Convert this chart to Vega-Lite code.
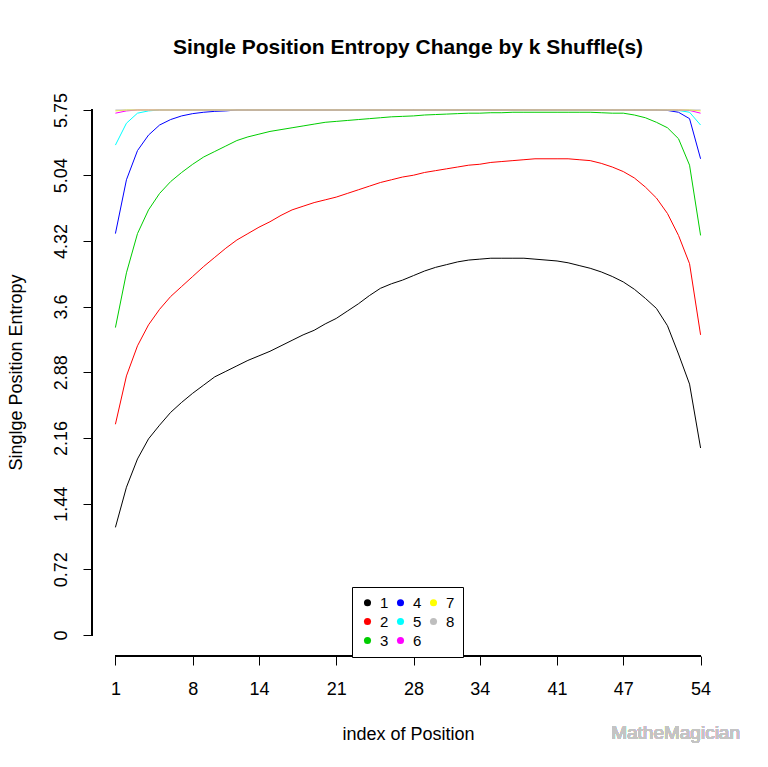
{
"$schema": "https://vega.github.io/schema/vega-lite/v6.json",
"width": 632, "height": 567,
"autosize": {"type": "none"},
"padding": {"left": 92, "top": 89, "right": 44, "bottom": 111},
"background": "white",
"title": {"text": "Single Position Entropy Change by k Shuffle(s)", "font": "Liberation Sans", "fontSize": 21, "fontWeight": "bold", "color": "black", "anchor": "middle", "frame": "group", "baseline": "alphabetic", "offset": 14},
"config": {"view": {"stroke": null}, "font": "Liberation Sans", "axis": {"grid": false}},
"data": {"values": [
{"i":1,"k":"1","v":1.18},{"i":2,"k":"1","v":1.62},{"i":3,"k":"1","v":1.93},{"i":4,"k":"1","v":2.15},{"i":5,"k":"1","v":2.30},{"i":6,"k":"1","v":2.44},{"i":7,"k":"1","v":2.55},{"i":8,"k":"1","v":2.65},{"i":9,"k":"1","v":2.74},{"i":10,"k":"1","v":2.83},
{"i":11,"k":"1","v":2.89},{"i":12,"k":"1","v":2.95},{"i":13,"k":"1","v":3.01},{"i":14,"k":"1","v":3.06},{"i":15,"k":"1","v":3.11},{"i":16,"k":"1","v":3.17},{"i":17,"k":"1","v":3.23},{"i":18,"k":"1","v":3.29},{"i":19,"k":"1","v":3.34},{"i":20,"k":"1","v":3.41},
{"i":21,"k":"1","v":3.47},{"i":22,"k":"1","v":3.55},{"i":23,"k":"1","v":3.63},{"i":24,"k":"1","v":3.72},{"i":25,"k":"1","v":3.80},{"i":26,"k":"1","v":3.85},{"i":27,"k":"1","v":3.89},{"i":28,"k":"1","v":3.94},{"i":29,"k":"1","v":3.99},{"i":30,"k":"1","v":4.03},
{"i":31,"k":"1","v":4.06},{"i":32,"k":"1","v":4.09},{"i":33,"k":"1","v":4.11},{"i":34,"k":"1","v":4.12},{"i":35,"k":"1","v":4.13},{"i":36,"k":"1","v":4.13},{"i":37,"k":"1","v":4.13},{"i":38,"k":"1","v":4.13},{"i":39,"k":"1","v":4.12},{"i":40,"k":"1","v":4.11},
{"i":41,"k":"1","v":4.10},{"i":42,"k":"1","v":4.08},{"i":43,"k":"1","v":4.05},{"i":44,"k":"1","v":4.02},{"i":45,"k":"1","v":3.98},{"i":46,"k":"1","v":3.93},{"i":47,"k":"1","v":3.87},{"i":48,"k":"1","v":3.79},{"i":49,"k":"1","v":3.69},{"i":50,"k":"1","v":3.58},
{"i":51,"k":"1","v":3.39},{"i":52,"k":"1","v":3.08},{"i":53,"k":"1","v":2.75},{"i":54,"k":"1","v":2.05},
{"i":1,"k":"2","v":2.31},{"i":2,"k":"2","v":2.84},{"i":3,"k":"2","v":3.17},{"i":4,"k":"2","v":3.40},{"i":5,"k":"2","v":3.57},{"i":6,"k":"2","v":3.71},{"i":7,"k":"2","v":3.82},{"i":8,"k":"2","v":3.93},{"i":9,"k":"2","v":4.04},{"i":10,"k":"2","v":4.14},
{"i":11,"k":"2","v":4.24},{"i":12,"k":"2","v":4.33},{"i":13,"k":"2","v":4.40},{"i":14,"k":"2","v":4.47},{"i":15,"k":"2","v":4.53},{"i":16,"k":"2","v":4.60},{"i":17,"k":"2","v":4.66},{"i":18,"k":"2","v":4.70},{"i":19,"k":"2","v":4.74},{"i":20,"k":"2","v":4.77},
{"i":21,"k":"2","v":4.80},{"i":22,"k":"2","v":4.84},{"i":23,"k":"2","v":4.88},{"i":24,"k":"2","v":4.92},{"i":25,"k":"2","v":4.96},{"i":26,"k":"2","v":4.99},{"i":27,"k":"2","v":5.02},{"i":28,"k":"2","v":5.04},{"i":29,"k":"2","v":5.07},{"i":30,"k":"2","v":5.09},
{"i":31,"k":"2","v":5.11},{"i":32,"k":"2","v":5.13},{"i":33,"k":"2","v":5.15},{"i":34,"k":"2","v":5.16},{"i":35,"k":"2","v":5.18},{"i":36,"k":"2","v":5.19},{"i":37,"k":"2","v":5.20},{"i":38,"k":"2","v":5.21},{"i":39,"k":"2","v":5.22},{"i":40,"k":"2","v":5.22},
{"i":41,"k":"2","v":5.22},{"i":42,"k":"2","v":5.22},{"i":43,"k":"2","v":5.21},{"i":44,"k":"2","v":5.20},{"i":45,"k":"2","v":5.17},{"i":46,"k":"2","v":5.13},{"i":47,"k":"2","v":5.08},{"i":48,"k":"2","v":5.01},{"i":49,"k":"2","v":4.91},{"i":50,"k":"2","v":4.79},
{"i":51,"k":"2","v":4.62},{"i":52,"k":"2","v":4.38},{"i":53,"k":"2","v":4.07},{"i":54,"k":"2","v":3.29},
{"i":1,"k":"3","v":3.37},{"i":2,"k":"3","v":3.97},{"i":3,"k":"3","v":4.40},{"i":4,"k":"3","v":4.66},{"i":5,"k":"3","v":4.84},{"i":6,"k":"3","v":4.97},{"i":7,"k":"3","v":5.07},{"i":8,"k":"3","v":5.16},{"i":9,"k":"3","v":5.24},{"i":10,"k":"3","v":5.30},
{"i":11,"k":"3","v":5.36},{"i":12,"k":"3","v":5.42},{"i":13,"k":"3","v":5.46},{"i":14,"k":"3","v":5.49},{"i":15,"k":"3","v":5.52},{"i":16,"k":"3","v":5.54},{"i":17,"k":"3","v":5.56},{"i":18,"k":"3","v":5.58},{"i":19,"k":"3","v":5.60},{"i":20,"k":"3","v":5.62},
{"i":21,"k":"3","v":5.63},{"i":22,"k":"3","v":5.64},{"i":23,"k":"3","v":5.65},{"i":24,"k":"3","v":5.66},{"i":25,"k":"3","v":5.67},{"i":26,"k":"3","v":5.68},{"i":27,"k":"3","v":5.685},{"i":28,"k":"3","v":5.69},{"i":29,"k":"3","v":5.70},{"i":30,"k":"3","v":5.705},
{"i":31,"k":"3","v":5.71},{"i":32,"k":"3","v":5.715},{"i":33,"k":"3","v":5.72},{"i":34,"k":"3","v":5.72},{"i":35,"k":"3","v":5.725},{"i":36,"k":"3","v":5.725},{"i":37,"k":"3","v":5.73},{"i":38,"k":"3","v":5.73},{"i":39,"k":"3","v":5.73},{"i":40,"k":"3","v":5.73},
{"i":41,"k":"3","v":5.73},{"i":42,"k":"3","v":5.73},{"i":43,"k":"3","v":5.73},{"i":44,"k":"3","v":5.73},{"i":45,"k":"3","v":5.725},{"i":46,"k":"3","v":5.72},{"i":47,"k":"3","v":5.72},{"i":48,"k":"3","v":5.70},{"i":49,"k":"3","v":5.67},{"i":50,"k":"3","v":5.62},
{"i":51,"k":"3","v":5.56},{"i":52,"k":"3","v":5.44},{"i":53,"k":"3","v":5.15},{"i":54,"k":"3","v":4.38},
{"i":1,"k":"4","v":4.40},{"i":2,"k":"4","v":4.99},{"i":3,"k":"4","v":5.31},{"i":4,"k":"4","v":5.48},{"i":5,"k":"4","v":5.59},{"i":6,"k":"4","v":5.65},{"i":7,"k":"4","v":5.69},{"i":8,"k":"4","v":5.715},{"i":9,"k":"4","v":5.73},{"i":10,"k":"4","v":5.74},
{"i":11,"k":"4","v":5.745},{"i":12,"k":"4","v":5.755},{"i":13,"k":"4","v":5.755},{"i":14,"k":"4","v":5.755},{"i":15,"k":"4","v":5.755},{"i":16,"k":"4","v":5.755},{"i":17,"k":"4","v":5.755},{"i":18,"k":"4","v":5.755},{"i":19,"k":"4","v":5.755},{"i":20,"k":"4","v":5.755},
{"i":21,"k":"4","v":5.755},{"i":22,"k":"4","v":5.755},{"i":23,"k":"4","v":5.755},{"i":24,"k":"4","v":5.755},{"i":25,"k":"4","v":5.755},{"i":26,"k":"4","v":5.755},{"i":27,"k":"4","v":5.755},{"i":28,"k":"4","v":5.755},{"i":29,"k":"4","v":5.755},{"i":30,"k":"4","v":5.755},
{"i":31,"k":"4","v":5.755},{"i":32,"k":"4","v":5.755},{"i":33,"k":"4","v":5.755},{"i":34,"k":"4","v":5.755},{"i":35,"k":"4","v":5.755},{"i":36,"k":"4","v":5.755},{"i":37,"k":"4","v":5.755},{"i":38,"k":"4","v":5.755},{"i":39,"k":"4","v":5.755},{"i":40,"k":"4","v":5.755},
{"i":41,"k":"4","v":5.755},{"i":42,"k":"4","v":5.755},{"i":43,"k":"4","v":5.755},{"i":44,"k":"4","v":5.755},{"i":45,"k":"4","v":5.755},{"i":46,"k":"4","v":5.755},{"i":47,"k":"4","v":5.755},{"i":48,"k":"4","v":5.755},{"i":49,"k":"4","v":5.755},{"i":50,"k":"4","v":5.755},
{"i":51,"k":"4","v":5.75},{"i":52,"k":"4","v":5.73},{"i":53,"k":"4","v":5.66},{"i":54,"k":"4","v":5.22},
{"i":1,"k":"5","v":5.37},{"i":2,"k":"5","v":5.61},{"i":3,"k":"5","v":5.72},{"i":4,"k":"5","v":5.745},{"i":5,"k":"5","v":5.755},{"i":6,"k":"5","v":5.755},{"i":7,"k":"5","v":5.755},{"i":8,"k":"5","v":5.755},{"i":9,"k":"5","v":5.755},{"i":10,"k":"5","v":5.755},
{"i":11,"k":"5","v":5.755},{"i":12,"k":"5","v":5.755},{"i":13,"k":"5","v":5.755},{"i":14,"k":"5","v":5.755},{"i":15,"k":"5","v":5.755},{"i":16,"k":"5","v":5.755},{"i":17,"k":"5","v":5.755},{"i":18,"k":"5","v":5.755},{"i":19,"k":"5","v":5.755},{"i":20,"k":"5","v":5.755},
{"i":21,"k":"5","v":5.755},{"i":22,"k":"5","v":5.755},{"i":23,"k":"5","v":5.755},{"i":24,"k":"5","v":5.755},{"i":25,"k":"5","v":5.755},{"i":26,"k":"5","v":5.755},{"i":27,"k":"5","v":5.755},{"i":28,"k":"5","v":5.755},{"i":29,"k":"5","v":5.755},{"i":30,"k":"5","v":5.755},
{"i":31,"k":"5","v":5.755},{"i":32,"k":"5","v":5.755},{"i":33,"k":"5","v":5.755},{"i":34,"k":"5","v":5.755},{"i":35,"k":"5","v":5.755},{"i":36,"k":"5","v":5.755},{"i":37,"k":"5","v":5.755},{"i":38,"k":"5","v":5.755},{"i":39,"k":"5","v":5.755},{"i":40,"k":"5","v":5.755},
{"i":41,"k":"5","v":5.755},{"i":42,"k":"5","v":5.755},{"i":43,"k":"5","v":5.755},{"i":44,"k":"5","v":5.755},{"i":45,"k":"5","v":5.755},{"i":46,"k":"5","v":5.755},{"i":47,"k":"5","v":5.755},{"i":48,"k":"5","v":5.755},{"i":49,"k":"5","v":5.755},{"i":50,"k":"5","v":5.755},
{"i":51,"k":"5","v":5.755},{"i":52,"k":"5","v":5.75},{"i":53,"k":"5","v":5.73},{"i":54,"k":"5","v":5.59},
{"i":1,"k":"6","v":5.72},{"i":2,"k":"6","v":5.745},{"i":3,"k":"6","v":5.755},{"i":4,"k":"6","v":5.755},{"i":5,"k":"6","v":5.755},{"i":6,"k":"6","v":5.755},{"i":7,"k":"6","v":5.755},{"i":8,"k":"6","v":5.755},{"i":9,"k":"6","v":5.755},{"i":10,"k":"6","v":5.755},
{"i":11,"k":"6","v":5.755},{"i":12,"k":"6","v":5.755},{"i":13,"k":"6","v":5.755},{"i":14,"k":"6","v":5.755},{"i":15,"k":"6","v":5.755},{"i":16,"k":"6","v":5.755},{"i":17,"k":"6","v":5.755},{"i":18,"k":"6","v":5.755},{"i":19,"k":"6","v":5.755},{"i":20,"k":"6","v":5.755},
{"i":21,"k":"6","v":5.755},{"i":22,"k":"6","v":5.755},{"i":23,"k":"6","v":5.755},{"i":24,"k":"6","v":5.755},{"i":25,"k":"6","v":5.755},{"i":26,"k":"6","v":5.755},{"i":27,"k":"6","v":5.755},{"i":28,"k":"6","v":5.755},{"i":29,"k":"6","v":5.755},{"i":30,"k":"6","v":5.755},
{"i":31,"k":"6","v":5.755},{"i":32,"k":"6","v":5.755},{"i":33,"k":"6","v":5.755},{"i":34,"k":"6","v":5.755},{"i":35,"k":"6","v":5.755},{"i":36,"k":"6","v":5.755},{"i":37,"k":"6","v":5.755},{"i":38,"k":"6","v":5.755},{"i":39,"k":"6","v":5.755},{"i":40,"k":"6","v":5.755},
{"i":41,"k":"6","v":5.755},{"i":42,"k":"6","v":5.755},{"i":43,"k":"6","v":5.755},{"i":44,"k":"6","v":5.755},{"i":45,"k":"6","v":5.755},{"i":46,"k":"6","v":5.755},{"i":47,"k":"6","v":5.755},{"i":48,"k":"6","v":5.755},{"i":49,"k":"6","v":5.755},{"i":50,"k":"6","v":5.755},
{"i":51,"k":"6","v":5.755},{"i":52,"k":"6","v":5.755},{"i":53,"k":"6","v":5.75},{"i":54,"k":"6","v":5.72},
{"i":1,"k":"7","v":5.745},{"i":2,"k":"7","v":5.755},{"i":3,"k":"7","v":5.755},{"i":4,"k":"7","v":5.755},{"i":5,"k":"7","v":5.755},{"i":6,"k":"7","v":5.755},{"i":7,"k":"7","v":5.755},{"i":8,"k":"7","v":5.755},{"i":9,"k":"7","v":5.755},{"i":10,"k":"7","v":5.755},
{"i":11,"k":"7","v":5.755},{"i":12,"k":"7","v":5.755},{"i":13,"k":"7","v":5.755},{"i":14,"k":"7","v":5.755},{"i":15,"k":"7","v":5.755},{"i":16,"k":"7","v":5.755},{"i":17,"k":"7","v":5.755},{"i":18,"k":"7","v":5.755},{"i":19,"k":"7","v":5.755},{"i":20,"k":"7","v":5.755},
{"i":21,"k":"7","v":5.755},{"i":22,"k":"7","v":5.755},{"i":23,"k":"7","v":5.755},{"i":24,"k":"7","v":5.755},{"i":25,"k":"7","v":5.755},{"i":26,"k":"7","v":5.755},{"i":27,"k":"7","v":5.755},{"i":28,"k":"7","v":5.755},{"i":29,"k":"7","v":5.755},{"i":30,"k":"7","v":5.755},
{"i":31,"k":"7","v":5.755},{"i":32,"k":"7","v":5.755},{"i":33,"k":"7","v":5.755},{"i":34,"k":"7","v":5.755},{"i":35,"k":"7","v":5.755},{"i":36,"k":"7","v":5.755},{"i":37,"k":"7","v":5.755},{"i":38,"k":"7","v":5.755},{"i":39,"k":"7","v":5.755},{"i":40,"k":"7","v":5.755},
{"i":41,"k":"7","v":5.755},{"i":42,"k":"7","v":5.755},{"i":43,"k":"7","v":5.755},{"i":44,"k":"7","v":5.755},{"i":45,"k":"7","v":5.755},{"i":46,"k":"7","v":5.755},{"i":47,"k":"7","v":5.755},{"i":48,"k":"7","v":5.755},{"i":49,"k":"7","v":5.755},{"i":50,"k":"7","v":5.755},
{"i":51,"k":"7","v":5.755},{"i":52,"k":"7","v":5.755},{"i":53,"k":"7","v":5.755},{"i":54,"k":"7","v":5.745},
{"i":1,"k":"8","v":5.755},{"i":2,"k":"8","v":5.755},{"i":3,"k":"8","v":5.755},{"i":4,"k":"8","v":5.755},{"i":5,"k":"8","v":5.755},{"i":6,"k":"8","v":5.755},{"i":7,"k":"8","v":5.755},{"i":8,"k":"8","v":5.755},{"i":9,"k":"8","v":5.755},{"i":10,"k":"8","v":5.755},
{"i":11,"k":"8","v":5.755},{"i":12,"k":"8","v":5.755},{"i":13,"k":"8","v":5.755},{"i":14,"k":"8","v":5.755},{"i":15,"k":"8","v":5.755},{"i":16,"k":"8","v":5.755},{"i":17,"k":"8","v":5.755},{"i":18,"k":"8","v":5.755},{"i":19,"k":"8","v":5.755},{"i":20,"k":"8","v":5.755},
{"i":21,"k":"8","v":5.755},{"i":22,"k":"8","v":5.755},{"i":23,"k":"8","v":5.755},{"i":24,"k":"8","v":5.755},{"i":25,"k":"8","v":5.755},{"i":26,"k":"8","v":5.755},{"i":27,"k":"8","v":5.755},{"i":28,"k":"8","v":5.755},{"i":29,"k":"8","v":5.755},{"i":30,"k":"8","v":5.755},
{"i":31,"k":"8","v":5.755},{"i":32,"k":"8","v":5.755},{"i":33,"k":"8","v":5.755},{"i":34,"k":"8","v":5.755},{"i":35,"k":"8","v":5.755},{"i":36,"k":"8","v":5.755},{"i":37,"k":"8","v":5.755},{"i":38,"k":"8","v":5.755},{"i":39,"k":"8","v":5.755},{"i":40,"k":"8","v":5.755},
{"i":41,"k":"8","v":5.755},{"i":42,"k":"8","v":5.755},{"i":43,"k":"8","v":5.755},{"i":44,"k":"8","v":5.755},{"i":45,"k":"8","v":5.755},{"i":46,"k":"8","v":5.755},{"i":47,"k":"8","v":5.755},{"i":48,"k":"8","v":5.755},{"i":49,"k":"8","v":5.755},{"i":50,"k":"8","v":5.755},
{"i":51,"k":"8","v":5.755},{"i":52,"k":"8","v":5.755},{"i":53,"k":"8","v":5.755},{"i":54,"k":"8","v":5.755}
]},
"layer": [
{"mark": {"type": "line", "strokeWidth": 1, "strokeCap": "butt"},
 "encoding": {
  "x": {"field": "i", "type": "quantitative", "scale": {"domain": [-1.12, 56.12], "nice": false, "zero": false},
   "axis": {"values": [1,8,14,21,28,34,41,47,54], "domain": false, "tickColor": "black", "tickSize": 9, "labelPadding": 15, "labelFontSize": 18, "labelFont": "Liberation Sans", "labelColor": "black", "labelFlush": false, "labelOverlap": false,
    "title": "index of Position", "titleFont": "Liberation Sans", "titleFontSize": 18, "titleFontWeight": "normal", "titleColor": "black", "titleBaseline": "alphabetic", "titleAlign": "center", "titleX": 316, "titleY": 83}},
  "y": {"field": "v", "type": "quantitative", "scale": {"domain": [-0.23, 5.985], "nice": false, "zero": false},
   "axis": {"values": [0,0.72,1.44,2.16,2.88,3.6,4.32,5.04,5.755], "labelExpr": "datum.value > 5.7 ? '5.75' : '' + datum.value", "domain": false, "tickColor": "black", "tickSize": 9, "labelAngle": -90, "labelAlign": "center", "labelBaseline": "alphabetic", "labelPadding": 17, "labelFontSize": 18, "labelFont": "Liberation Sans", "labelColor": "black", "labelFlush": false, "labelOverlap": false,
    "title": "Singlge Position Entropy", "titleFont": "Liberation Sans", "titleFontSize": 18, "titleFontWeight": "normal", "titleColor": "black", "titleAngle": -90, "titleBaseline": "alphabetic", "titleAlign": "center", "titleX": -71, "titleY": 283}},
  "color": {"field": "k", "type": "nominal",
   "scale": {"domain": ["1","2","3","4","5","6","7","8"], "range": ["#000000","#FF0000","#00CD00","#0000FF","#00FFFF","#FF00FF","#FFFF00","#BEBEBE"]},
   "legend": {"orient": "none", "legendX": 260, "legendY": 498, "columns": 3, "title": null, "symbolType": "circle", "symbolSize": 50, "symbolStrokeWidth": 0, "labelFontSize": 15, "labelFont": "Liberation Sans", "labelColor": "black", "labelOffset": 5, "columnPadding": 4, "rowPadding": 3, "padding": 8, "strokeColor": "black", "fillColor": "white",
    "encode": {"symbols": {"update": {"fill": {"scale": "color", "field": "value"}, "fillOpacity": {"value": 1}}}}}}
 }},
{"mark": {"type": "rule", "color": "black", "strokeWidth": 1},
 "encoding": {"x": {"datum": 1, "type": "quantitative"}, "x2": {"datum": 54}, "y": {"datum": -0.23, "type": "quantitative"}}},
{"mark": {"type": "rule", "color": "black", "strokeWidth": 1},
 "encoding": {"x": {"datum": -1.12, "type": "quantitative"}, "y": {"datum": 0, "type": "quantitative"}, "y2": {"datum": 5.755}}},
{"mark": {"type": "text", "text": "MatheMagician", "align": "left", "baseline": "middle", "fontSize": 19, "color": "#c4c4c4", "font": "Liberation Sans"},
 "encoding": {"x": {"datum": 45.9, "type": "quantitative"}, "y": {"datum": -1.07, "type": "quantitative"}}}
]
}
